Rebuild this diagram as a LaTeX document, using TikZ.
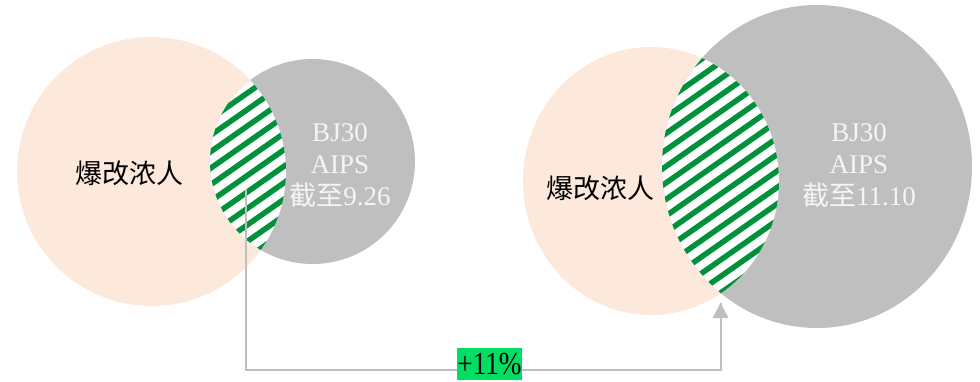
\documentclass[tikz,border=0pt]{standalone}
\usepackage{fontspec}
\setmainfont{Liberation Serif}
\newfontfamily\cjk{Noto Sans CJK SC}
\newfontfamily\narrowserif[FakeStretch=0.85]{Liberation Serif}
\definecolor{pinkfill}{RGB}{252,233,219}
\definecolor{grayfill}{RGB}{191,191,191}
\definecolor{stripegreen}{RGB}{0,145,58}
\definecolor{labelgreen}{RGB}{0,222,100}
\definecolor{linkgray}{RGB}{191,191,191}
\tikzset{
  bigtext/.style={font=\fontsize{27}{32}\selectfont, inner sep=0pt, align=center},
  graytext/.style={bigtext, text=white!96!black},
  link/.style={draw=linkgray, line width=2pt},
  stripe/.style={draw=stripegreen, line width=5.5pt},
  pctlabel/.style={fill=labelgreen, font=\narrowserif\fontsize{32}{34}\selectfont, inner xsep=0pt, inner ysep=0pt, minimum height=32pt, text=black}
}
\begin{document}
\begin{tikzpicture}[x=1pt,y=-1pt]
\useasboundingbox (0,0) rectangle (980,381);
% ---------- left pair ----------
\fill[pinkfill] (151.5,171.5) circle[radius=134.5];
\fill[grayfill] (312.5,161.5) circle[radius=102.5];
\begin{scope}
  \clip (151.5,171.5) circle[radius=134.5];
  \fill[white] (312.5,161.5) circle[radius=102.5];
  \clip (312.5,161.5) circle[radius=102.5];
  \begin{scope}[rotate around={35:(248,175)}]
    \foreach \k in {-12,...,12} {
      \draw[stripe] (48,175+\k*13.5) -- (448,175+\k*13.5);
    }
  \end{scope}
\end{scope}
\node[bigtext] (lp) at (129,173) {{\cjk 爆改浓人}};
\node[graytext] (lg) at (340,166) {BJ30\\AIPS\\{\cjk 截至}9.26};
% ---------- right pair ----------
\fill[pinkfill] (651,181) ellipse[x radius=128, y radius=134];
\fill[grayfill] (817,166.5) ellipse[x radius=155, y radius=161.5];
\begin{scope}
  \clip (651,181) ellipse[x radius=128, y radius=134];
  \fill[white] (817,166.5) ellipse[x radius=155, y radius=161.5];
  \clip (817,166.5) ellipse[x radius=155, y radius=161.5];
  \begin{scope}[rotate around={35:(720,178)}]
    \foreach \k in {-14,...,14} {
      \draw[stripe] (500,178+\k*13.5) -- (940,178+\k*13.5);
    }
  \end{scope}
\end{scope}
\node[bigtext] (rp) at (600,188) {{\cjk 爆改浓人}};
\node[graytext] (rg) at (859,166) {BJ30\\AIPS\\{\cjk 截至}11.10};
% ---------- connector ----------
\coordinate (from) at (246,189);
\coordinate (to) at (720.5,303);
\coordinate (c1) at (246,369.5);
\coordinate (c2) at (720.5,369.5);
\draw[link] (from) -- (c1) -- (c2) -- (to);
\fill[linkgray] (to) -- ++(-8,15) -- ++(16,0) -- cycle;
\node[pctlabel] (pct) at (489.5,364) {+11\%};
\end{tikzpicture}
\end{document}
